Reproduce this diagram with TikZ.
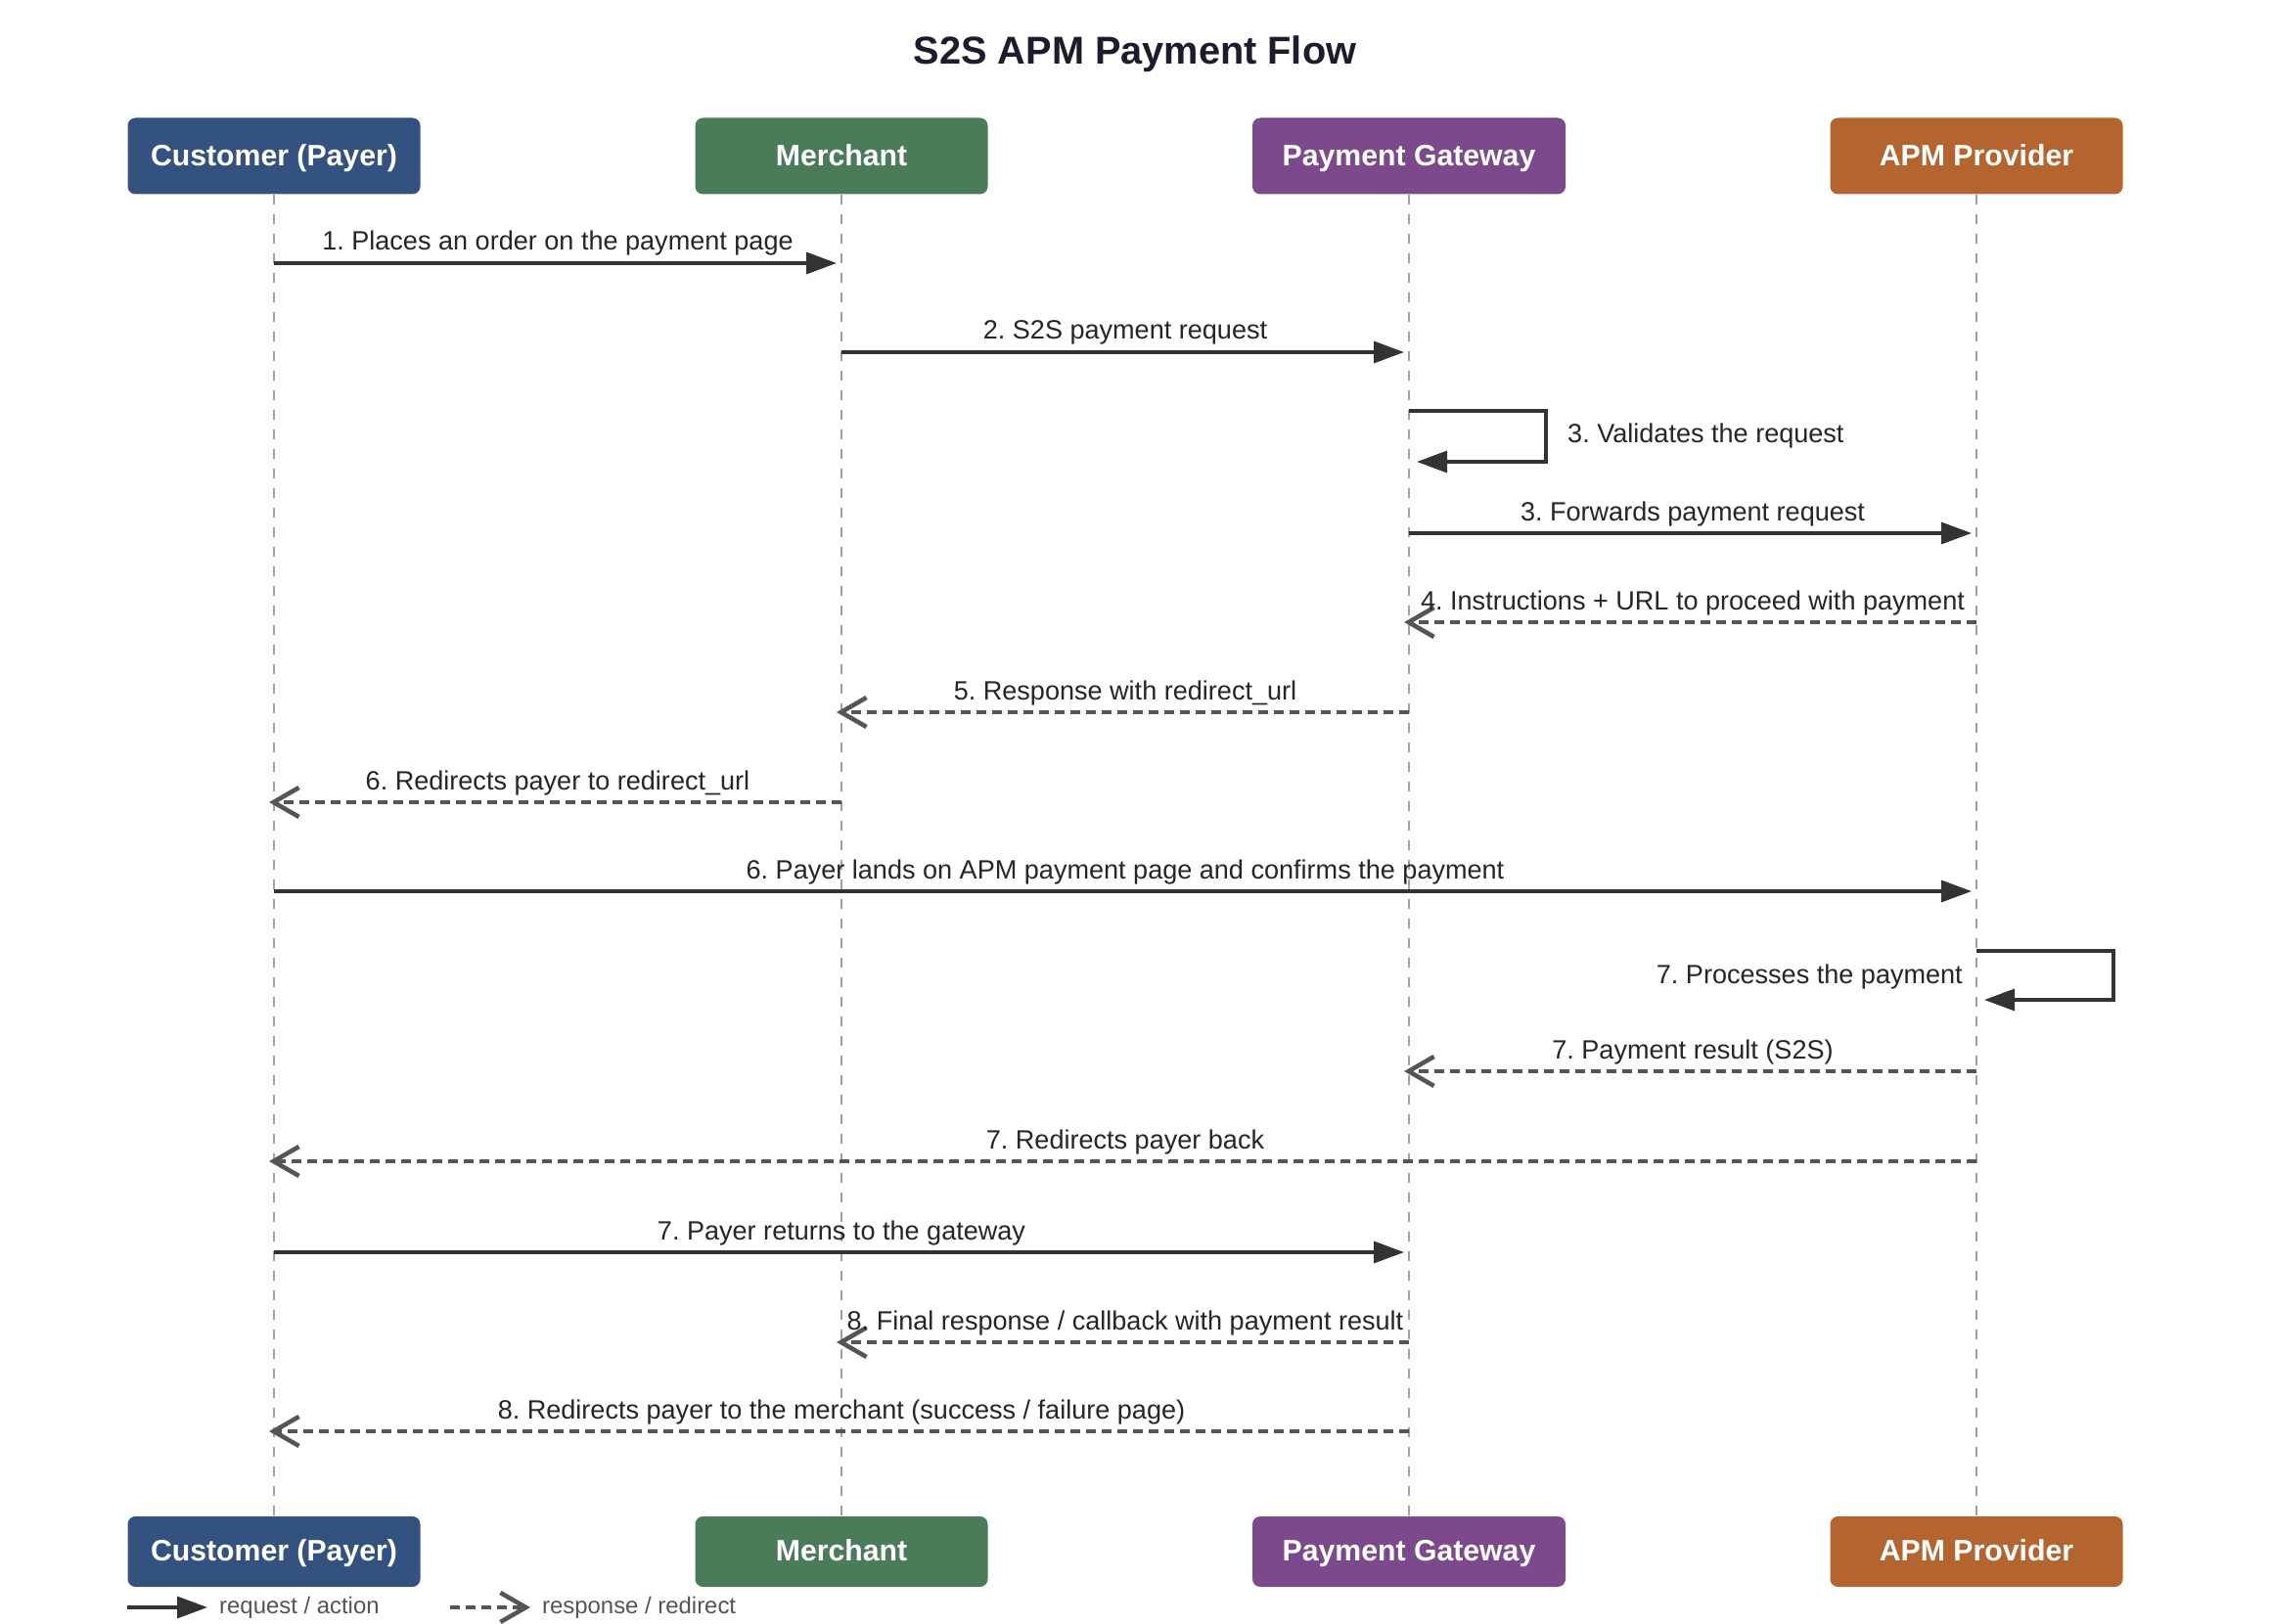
\documentclass[tikz,border=0pt]{standalone}
\usepackage{fontspec}
\setmainfont{Liberation Sans}
\usetikzlibrary{arrows.meta}
\frenchspacing

\definecolor{custblue}{HTML}{34527F}
\definecolor{merchgreen}{HTML}{4A7C59}
\definecolor{gwpurple}{HTML}{7C4A8C}
\definecolor{apmorange}{HTML}{B4652F}
\definecolor{inkdark}{HTML}{333333}
\definecolor{inkgray}{HTML}{555555}
\definecolor{lifegray}{HTML}{98A0B2}
\definecolor{titleink}{HTML}{1C1C2E}

\tikzset{
  actor/.style={rounded corners=0.08cm, text=white, font=\fontsize{8.6}{10}\selectfont\bfseries,
    minimum width=2.99cm, minimum height=0.78cm, inner xsep=0.2cm, text height=0.56em, text depth=0pt},
  lifeline/.style={lifegray, line width=0.65pt, dash pattern=on 0.1cm off 0.1cm},
  req/.style={inkdark, line width=0.95pt, -{Triangle[length=0.31cm,width=0.22cm]}, shorten >=0.05cm},
  resp/.style={inkgray, line width=0.95pt, dash pattern=on 0.1cm off 0.06cm,
    -{Straight Barb[length=0.26cm,width=0.3cm,line width=1.3pt]}, shorten >=-0.05cm},
  msglabel/.style={midway, anchor=base, yshift=0.13cm, inner sep=1pt, text=black!85,
    font=\fontsize{7.7}{9}\selectfont},
  looplabel/.style={inner sep=1pt, text=black!85, font=\fontsize{7.7}{9}\selectfont},
  legendtext/.style={inner sep=1pt, text=inkgray, font=\fontsize{6.8}{8}\selectfont}
}

\begin{document}
\begin{tikzpicture}
        \fill[white] (0,0) rectangle (23.2,-16.6);
        \useasboundingbox (0,0) rectangle (23.2,-16.6);
        % title
        \node[font=\fontsize{11.3}{13}\selectfont\bfseries, text=titleink] (title) at (11.6,-0.55) {S2S APM Payment Flow};
        % actors on top
        \node[actor, fill=custblue] (cust) at (2.80,-1.595) {Customer (Payer)};
        \node[actor, fill=merchgreen] (merch) at (8.60,-1.595) {Merchant};
        \node[actor, fill=gwpurple, minimum width=3.2cm] (gw) at (14.40,-1.595) {Payment Gateway};
        \node[actor, fill=apmorange] (apm) at (20.20,-1.595) {APM Provider};
        % actors at the bottom
        \node[actor, fill=custblue, minimum height=0.72cm] (custB) at (2.80,-15.86) {Customer (Payer)};
        \node[actor, fill=merchgreen, minimum height=0.72cm] (merchB) at (8.60,-15.86) {Merchant};
        \node[actor, fill=gwpurple, minimum width=3.2cm, minimum height=0.72cm] (gwB) at (14.40,-15.86) {Payment Gateway};
        \node[actor, fill=apmorange, minimum height=0.72cm] (apmB) at (20.20,-15.86) {APM Provider};
        % lifelines
        \draw[lifeline] (cust) -- (custB);
        \draw[lifeline] (merch) -- (merchB);
        \draw[lifeline] (gw) -- (gwB);
        \draw[lifeline] (apm) -- (apmB);
        % messages
        \draw[req] (cust |- 0,-2.69) -- (merch |- 0,-2.69) node[msglabel] (m1) {1. Places an order on the payment page};
        \draw[req] (merch |- 0,-3.60) -- (gw |- 0,-3.60) node[msglabel] (m2) {2. S2S payment request};
        \draw[req, shorten >=0.08cm] (gw |- 0,-4.20) -| ++(1.40,-0.52) -- (gw |- 0,-4.72);
        \node[looplabel, anchor=west] (m3) at (15.98,-4.46) {3. Validates the request};
        \draw[req] (gw |- 0,-5.45) -- (apm |- 0,-5.45) node[msglabel] (m4) {3. Forwards payment request};
        \draw[resp] (apm |- 0,-6.36) -- (gw |- 0,-6.36) node[msglabel] (m5) {4. Instructions + URL to proceed with payment};
        \draw[resp] (gw |- 0,-7.28) -- (merch |- 0,-7.28) node[msglabel] (m6) {5. Response with redirect\_url};
        \draw[resp] (merch |- 0,-8.20) -- (cust |- 0,-8.20) node[msglabel] (m7) {6. Redirects payer to redirect\_url};
        \draw[req] (cust |- 0,-9.11) -- (apm |- 0,-9.11) node[msglabel] (m8) {6. Payer lands on APM payment page and confirms the payment};
        \draw[req, shorten >=0.08cm] (apm |- 0,-9.72) -| ++(1.40,-0.50) -- (apm |- 0,-10.22);
        \node[looplabel, anchor=east] (m9) at (20.10,-9.98) {7. Processes the payment};
        \draw[resp] (apm |- 0,-10.95) -- (gw |- 0,-10.95) node[msglabel] (m10) {7. Payment result (S2S)};
        \draw[resp] (apm |- 0,-11.87) -- (cust |- 0,-11.87) node[msglabel] (m11) {7. Redirects payer back};
        \draw[req] (cust |- 0,-12.80) -- (gw |- 0,-12.80) node[msglabel] (m12) {7. Payer returns to the gateway};
        \draw[resp] (gw |- 0,-13.72) -- (merch |- 0,-13.72) node[msglabel] (m13) {8. Final response / callback with payment result};
        \draw[resp] (gw |- 0,-14.63) -- (cust |- 0,-14.63) node[msglabel] (m14) {8. Redirects payer to the merchant (success / failure page)};
        % legend
        \coordinate (lgReqA) at (1.30,-16.43);
        \coordinate (lgReqB) at (2.12,-16.43);
        \coordinate (lgRespA) at (4.60,-16.43);
        \coordinate (lgRespB) at (5.42,-16.43);
        \draw[req, shorten >=0pt] (lgReqA) -- (lgReqB);
        \node[legendtext, anchor=west] (lgReq) at (2.20,-16.43) {request / action};
        \draw[resp, shorten >=0pt] (lgRespA) -- (lgRespB);
        \node[legendtext, anchor=west] (lgResp) at (5.50,-16.43) {response / redirect};
    \end{tikzpicture}
\end{document}
